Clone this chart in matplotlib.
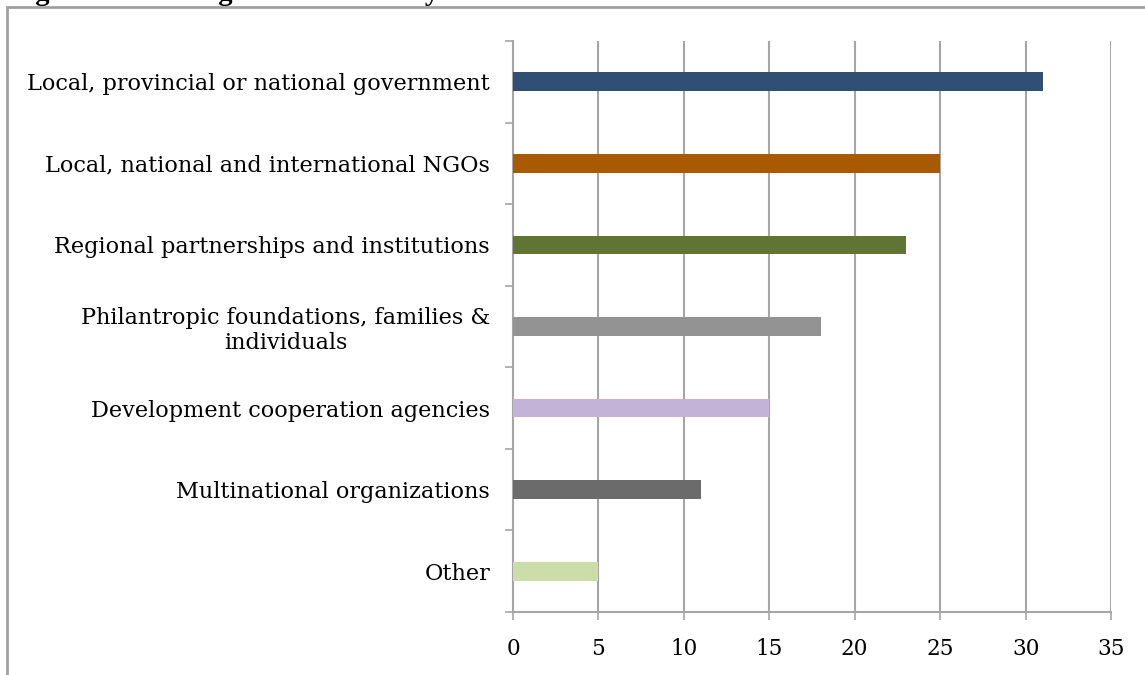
import matplotlib.pyplot as plt
from matplotlib.patches import Rectangle

categories = [
    "Local, provincial or national government",
    "Local, national and international NGOs",
    "Regional partnerships and institutions",
    "Philantropic foundations, families &\nindividuals",
    "Development cooperation agencies",
    "Multinational organizations",
    "Other",
]
values = [31, 25, 23, 18, 15, 11, 5]
colors = ["#2F5072", "#A95A00", "#607434", "#939393",
          "#C3B3D6", "#6B6B6B", "#CCDDAA"]
xticks = [0, 5, 10, 15, 20, 25, 30, 35]
title = "Figure 4: Ranking of the secondary conservation initiatives"

W, H = 1145, 675
fig = plt.figure(figsize=(W / 100, H / 100), dpi=100)
plt.rcParams["font.family"] = ["DejaVu Serif"]

# axes box in pixel coords: x 513..1111, y 41..612 (from top)
ax = fig.add_axes([513 / W, 1 - 612 / H, (1111 - 513) / W, (612 - 41) / H])

grey = "#A6A6A6"
n = len(categories)
ypos = list(range(n))
ax.barh(ypos, values, height=0.23, color=colors, zorder=3)
ax.set_ylim(n - 0.5, -0.5)
ax.set_xlim(0, 35)

ax.set_xticks(xticks)
ax.set_xticklabels([str(t) for t in xticks], fontsize=15.5)
ax.set_yticks([i - 0.5 for i in range(n + 1)])
ax.set_yticklabels([])
ax.set_yticks(ypos, minor=True)
ax.set_yticklabels(categories, minor=True, fontsize=16.1, ha="right",
                   multialignment="center")
ax.tick_params(axis="y", which="minor", length=0, pad=16.5)
ax.tick_params(axis="y", which="major", length=6, width=1.2, color=grey,
               direction="out")
ax.tick_params(axis="x", length=6, width=1.2, color=grey, direction="out",
               pad=13)

ax.grid(axis="x", color=grey, linewidth=1.5, zorder=0)
for s in ["top", "right"]:
    ax.spines[s].set_visible(False)
for s in ["left", "bottom"]:
    ax.spines[s].set_color(grey)
    ax.spines[s].set_linewidth(1.5)

# outer frame (cut off on right and bottom)
fig.patches.append(Rectangle((7 / W, -0.1), 1.2, 1 - 7 / H + 0.1,
                             transform=fig.transFigure, fill=False,
                             edgecolor="#A0A0A0", linewidth=2))
# title cut off at top of the picture
fig.text(10 / W, 1 + 0.5 / H, title, fontsize=20.5, fontweight="bold",
         va="baseline", ha="left", family="Liberation Serif")

fig.savefig("out.png", dpi=100)
